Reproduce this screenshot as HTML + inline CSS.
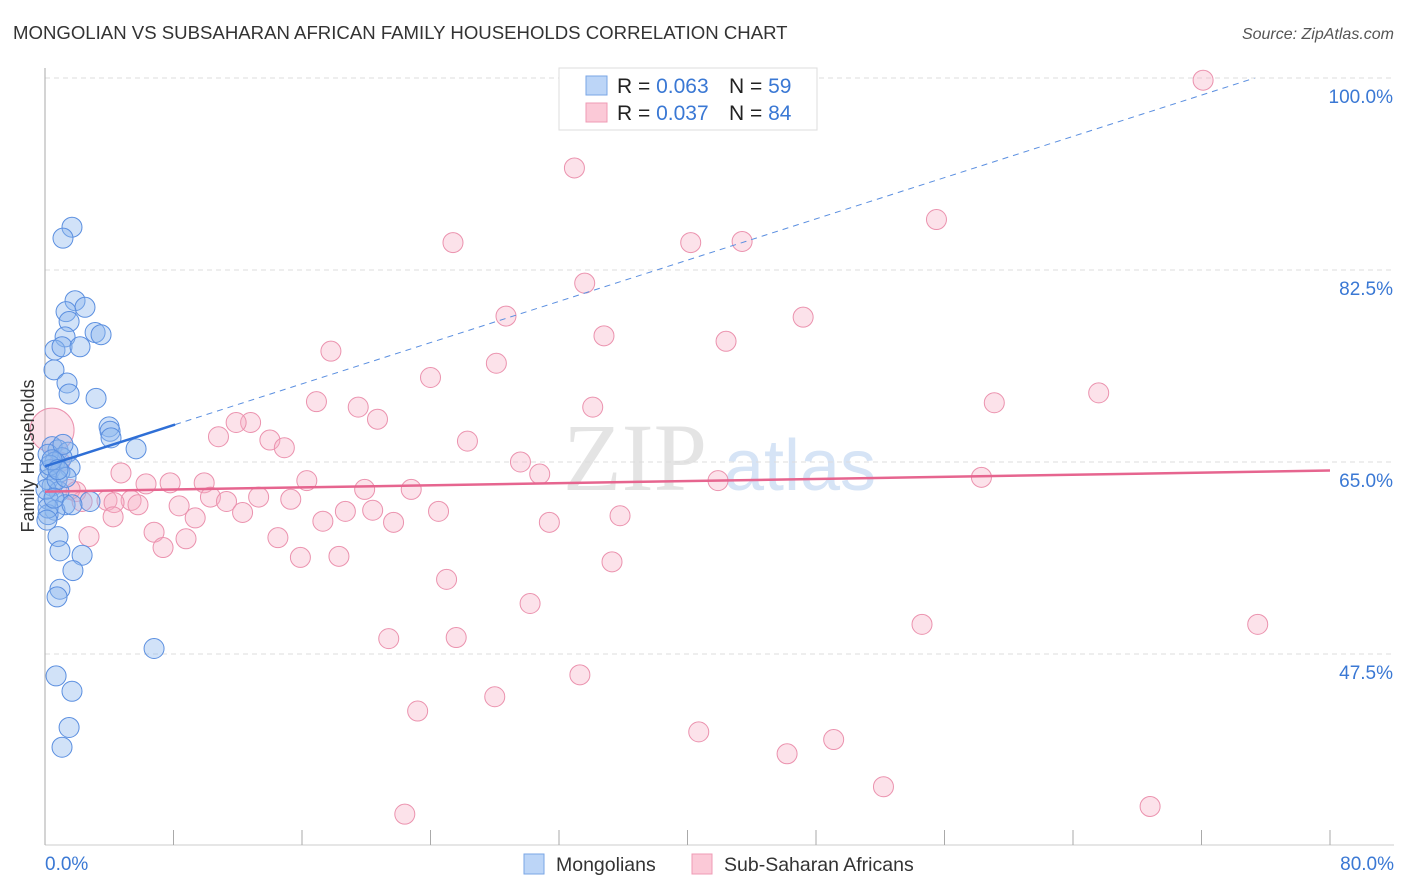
<!DOCTYPE html>
<html><head><meta charset="utf-8"><style>
body{margin:0;background:#fff;font-family:"Liberation Sans",sans-serif;}
svg{display:block}
</style></head><body>
<svg width="1406" height="892" xmlns="http://www.w3.org/2000/svg">
<text x="13" y="39" font-size="18.6" fill="#333">MONGOLIAN VS SUBSAHARAN AFRICAN FAMILY HOUSEHOLDS CORRELATION CHART</text>
<text x="1394" y="39" font-size="16" fill="#555" font-style="italic" text-anchor="end">Source: ZipAtlas.com</text>
<g>
<text x="635" y="490" font-size="96" font-family="Liberation Serif,serif" fill="#e4e4e4" text-anchor="middle">ZIP</text>
<text x="800" y="490" font-size="72" fill="#d6e4f6" text-anchor="middle">atlas</text>
</g>
<g id="grid"></g>
<g id="axes"></g>
<g id="marks"></g>
<text transform="translate(34,456) rotate(-90)" font-size="18" fill="#333" text-anchor="middle">Family Households</text>
<g>
<rect x="559" y="68" width="258" height="62" fill="#fff" stroke="#ddd"/>
<rect x="586" y="76" width="21" height="19" fill="#bcd5f7" stroke="#7aa6e6"/>
<rect x="586" y="103" width="21" height="19" fill="#fbc9d7" stroke="#ef9bb4"/>
<text x="617" y="93" font-size="21" fill="#222">R = <tspan fill="#3a78d4">0.063</tspan></text>
<text x="729" y="93" font-size="21" fill="#222">N = <tspan fill="#3a78d4">59</tspan></text>
<text x="617" y="120" font-size="21" fill="#222">R = <tspan fill="#3a78d4">0.037</tspan></text>
<text x="729" y="120" font-size="21" fill="#222">N = <tspan fill="#3a78d4">84</tspan></text>
</g>
<g>
<rect x="524" y="854" width="20" height="20" fill="#bcd5f7" stroke="#7aa6e6"/>
<text x="556" y="871" font-size="19.5" fill="#333">Mongolians</text>
<rect x="692" y="854" width="20" height="20" fill="#fbc9d7" stroke="#ef9bb4"/>
<text x="724" y="871" font-size="19.5" fill="#333">Sub-Saharan Africans</text>
</g>
</svg>
<script>
const yTicks=[100,82.5,65,47.5];
const xTickLabels=["0.0%","80.0%"];
const blueX=[1.68,1.12,1.87,2.49,1.31,1.50,1.25,3.12,3.49,0.62,1.06,2.18,0.56,1.37,1.50,3.18,3.99,4.05,4.11,5.67,0.44,0.81,1.43,0.19,1.06,0.62,1.56,0.31,0.93,0.19,0.44,0.87,2.80,0.19,1.25,0.62,0.19,0.81,0.93,2.31,1.74,0.93,0.75,6.79,0.69,1.68,1.50,1.06,0.31,0.06,0.75,1.31,0.19,0.56,1.12,0.44,1.68,0.12,0.81];
const blueY=[86.4,85.4,79.7,79.1,78.7,77.8,76.4,76.8,76.6,75.2,75.5,75.5,73.4,72.2,71.2,70.8,68.2,67.8,67.2,66.2,66.4,66.1,65.9,65.7,65.4,65.0,64.5,64.3,64.1,63.4,62.8,62.3,61.4,61.6,61.1,60.6,60.2,58.2,56.9,56.5,55.1,53.4,52.7,48.0,45.5,44.1,40.8,39.0,64.7,62.5,63.4,63.6,60.8,61.7,66.6,65.2,61.1,59.7,64.3];
const pinkX=[72.1,32.96,55.5,25.4,40.2,43.4,33.6,28.7,47.2,34.8,42.4,17.8,28.1,24.0,65.6,59.1,16.9,19.5,34.1,20.7,12.8,11.9,10.8,14.0,14.9,26.3,29.6,4.73,30.8,41.9,58.3,16.3,6.29,7.79,9.91,19.9,22.8,1.93,10.3,13.3,15.3,5.36,3.86,11.3,2.31,5.79,8.35,4.30,12.3,18.7,20.4,24.5,35.8,4.24,9.35,17.3,21.7,31.4,6.79,2.74,8.78,7.35,14.5,15.9,18.3,35.3,25.0,30.2,54.6,75.5,21.4,25.6,33.3,28.0,23.2,40.7,49.1,46.2,52.2,68.8,22.4,0.44,0.93,1.56];
const pinkY=[99.8,91.8,87.1,85.0,85.0,85.1,81.3,78.3,78.2,76.5,76.0,75.1,74.0,72.7,71.3,70.4,70.5,70.0,70.0,68.9,68.6,68.6,67.3,67.0,66.3,66.9,65.0,64.0,63.9,63.3,63.6,63.3,63.0,63.1,63.1,62.5,62.5,62.3,61.8,61.8,61.6,61.5,61.5,61.4,61.4,61.1,61.0,61.3,60.4,60.5,60.6,60.5,60.1,60.0,59.9,59.6,59.5,59.5,58.6,58.2,58.0,57.2,58.1,56.3,56.4,55.9,54.3,52.1,50.2,50.2,48.9,49.0,45.6,43.6,42.3,40.4,39.7,38.4,35.4,33.6,32.9,67.9,65.0,62.5];
const blueTrend=[64.6,0.47]; // intercept, slope
const pinkTrend=[62.3,0.024];

const NS="http://www.w3.org/2000/svg";
const sx=v=>45+v*(1285/80);
const sy=v=>78+(100-v)/0.09115;
function mk(tag,attrs,parent){const e=document.createElementNS(NS,tag);for(const k in attrs)e.setAttribute(k,attrs[k]);parent.appendChild(e);return e;}
const grid=document.getElementById('grid'),axes=document.getElementById('axes'),marks=document.getElementById('marks');
yTicks.forEach(t=>{
  const l=mk('line',{x1:45,x2:1394,y1:sy(t),y2:sy(t),stroke:'#ddd','stroke-dasharray':'5,4'},grid);
  
  
  const tx=mk('text',{x:1393,y:sy(t)+25,'font-size':19,fill:'#3a78d4','text-anchor':'end'},axes);
  tx.textContent=t.toFixed(1)+'%';
  
  
});
const la=mk('line',{x1:45,x2:45,y1:68,y2:845,stroke:'#aaa'},axes);


const ba=mk('line',{x1:45,x2:1394,y1:845,y2:845,stroke:'#ccc'},axes);


for(let i=0;i<=10;i++){
  const t=mk('line',{x1:sx(i*8),x2:sx(i*8),y1:830,y2:845,stroke:'#aaa'},axes);
  
  
}
[[0,xTickLabels[0],'start',45],[80,xTickLabels[1],'end',1394]].forEach(a=>{
  const tx=mk('text',{x:a[3],y:870,'font-size':19,fill:'#3a78d4','text-anchor':a[2]},axes);
  tx.textContent=a[1];
  
  
});
pinkX.forEach((x,i)=>{
  const r=(i===pinkX.length-3)?22:10;
  const c=mk('circle',{cx:sx(x),cy:sy(pinkY[i]),r:r,fill:'rgba(246,172,196,0.35)',stroke:'#eb92ae','stroke-width':1},marks);
  
  
});
blueX.forEach((x,i)=>{
  const c=mk('circle',{cx:sx(x),cy:sy(blueY[i]),r:10,fill:'rgba(140,182,238,0.4)',stroke:'#5b8fe0','stroke-width':1},marks);
  
  
});
const bf=x=>blueTrend[0]+blueTrend[1]*x;
const b1=mk('line',{x1:sx(0),y1:sy(bf(0)),x2:sx(8.1),y2:sy(bf(8.1)),stroke:'#2f6fd6','stroke-width':2.5},marks);


const b2=mk('line',{x1:sx(8.1),y1:sy(bf(8.1)),x2:sx(75.3),y2:sy(bf(75.3)),stroke:'#5b8fe0','stroke-width':1,'stroke-dasharray':'6,5'},marks);


const pf=x=>pinkTrend[0]+pinkTrend[1]*x;
const p1=mk('line',{x1:sx(0),y1:sy(pf(0)),x2:sx(80),y2:sy(pf(80)),stroke:'#e6658f','stroke-width':2.5},marks);


</script>
</body></html>
